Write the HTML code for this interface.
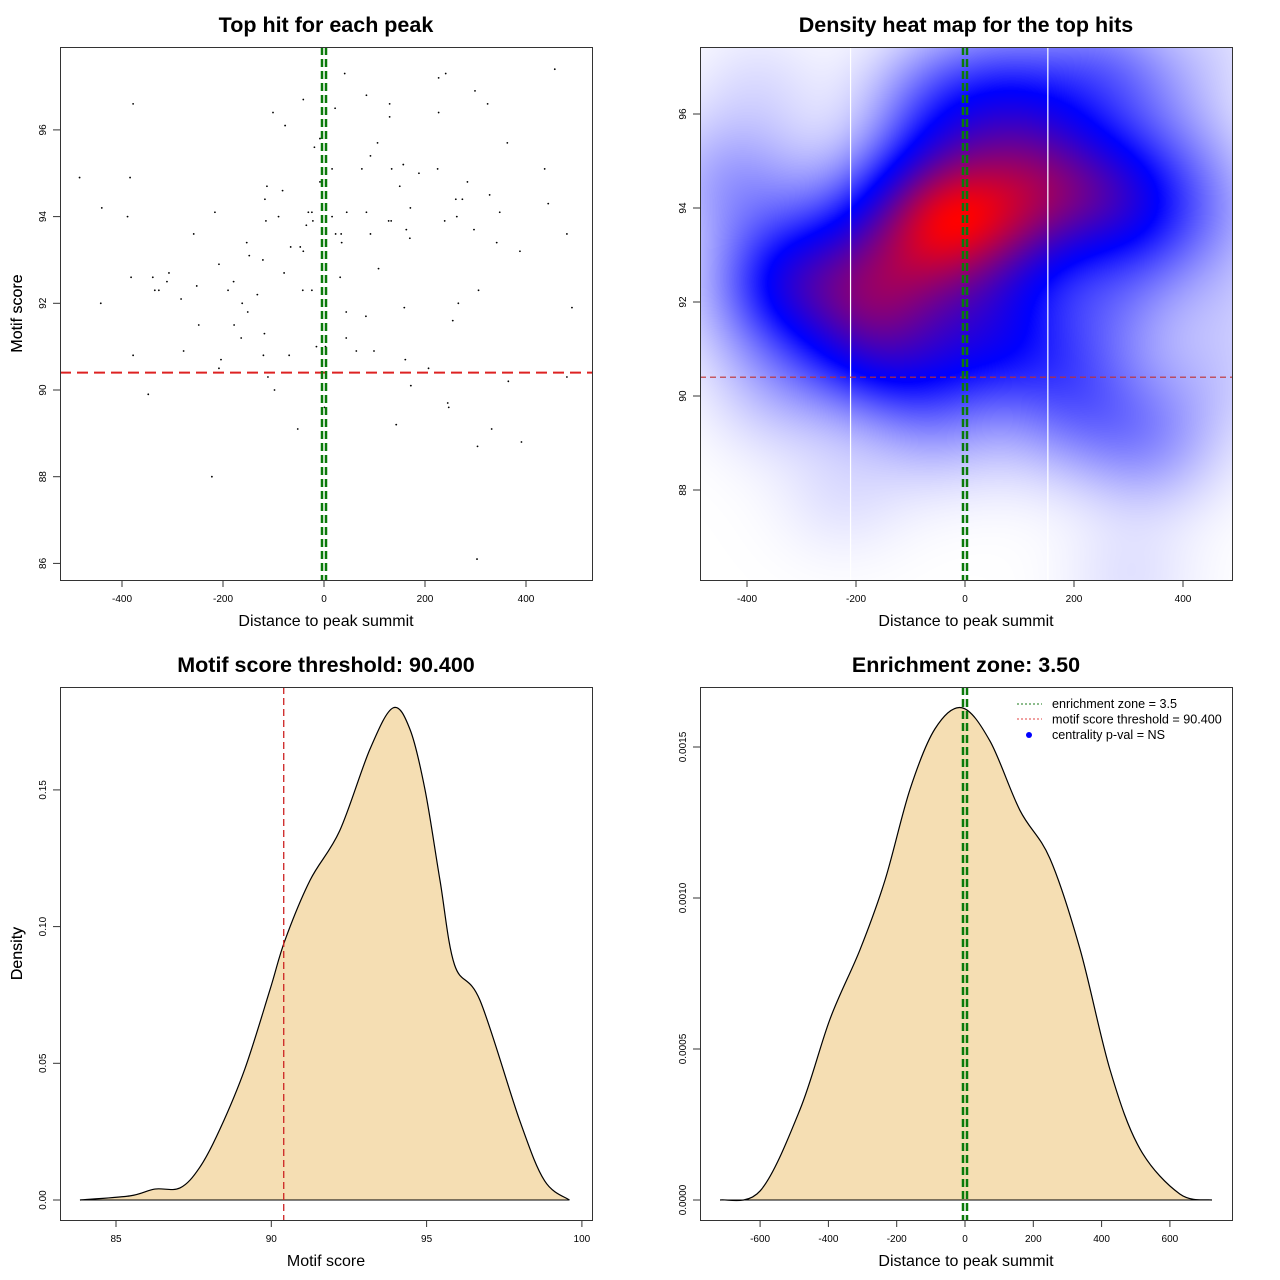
<!DOCTYPE html>
<html><head><meta charset="utf-8">
<style>
html,body{margin:0;padding:0;background:#fff;}
#wrap{position:relative;width:1280px;height:1280px;}
#heat{position:absolute;left:700px;top:47px;}
#svg{position:absolute;left:0;top:0;}
text{font-family:"Liberation Sans",sans-serif;fill:#000;}
</style></head><body>
<div id="wrap">
<canvas id="heat" width="532" height="533"></canvas>
<svg id="svg" width="1280" height="1280" xmlns="http://www.w3.org/2000/svg"></svg>
</div>
<script>
// ---- data ----
const hitDist = [-41,-378,-101,-77,-8,-19,-484,-384,-8,-113,-82,-117,-440,-216,-31,-24,-389,-115,-90,-22,-35,-258,-153,-66,-47,-41,-148,-121,-208,-307,-79,-382,-339,-311,-179,-252,-335,-327,-190,-42,-24,-132,-283,-442,-162,-151,-248,-178,-118,-164,-15,-278,-378,-120,-69,-204,-208,-111,-98,-348,1,-52,-222,
457,41,241,227,299,84,130,324,22,227,130,106,363,92,157,16,75,134,225,437,188,284,150,328,261,274,444,171,45,84,348,16,263,128,133,239,163,297,23,34,92,481,170,35,342,388,108,32,306,159,266,491,44,83,255,44,3,64,99,161,207,365,481,172,245,247,143,332,391,304,303];
const hitScore = [96.7,96.6,96.4,96.1,95.8,95.6,94.9,94.9,94.8,94.7,94.6,94.4,94.2,94.1,94.1,94.1,94.0,93.9,94.0,93.9,93.8,93.6,93.4,93.3,93.3,93.2,93.1,93.0,92.9,92.7,92.7,92.6,92.6,92.5,92.5,92.4,92.3,92.3,92.3,92.3,92.3,92.2,92.1,92.0,92.0,91.8,91.5,91.5,91.3,91.2,91.0,90.9,90.8,90.8,90.8,90.7,90.5,90.3,90.0,89.9,89.6,89.1,88.0,
97.4,97.3,97.3,97.2,96.9,96.8,96.6,96.6,96.5,96.4,96.3,95.7,95.7,95.4,95.2,95.1,95.1,95.1,95.1,95.1,95.0,94.8,94.7,94.5,94.4,94.4,94.3,94.2,94.1,94.1,94.1,94.0,94.0,93.9,93.9,93.9,93.7,93.7,93.6,93.6,93.6,93.6,93.5,93.4,93.4,93.2,92.8,92.6,92.3,91.9,92.0,91.9,91.8,91.7,91.6,91.2,91.0,90.9,90.9,90.7,90.5,90.2,90.3,90.1,89.7,89.6,89.2,89.1,88.8,88.7,86.1];
const scoreGrid = [83.84,85.45,86.25,87.06,87.7,88.35,89.15,89.96,90.44,91.25,92.2,93.18,93.92,94.47,94.95,95.43,95.9,96.72,98.0,98.8,99.6];
const scoreDens = [0,0.0015,0.004,0.0044,0.012,0.026,0.048,0.077,0.095,0.117,0.135,0.165,0.180,0.172,0.150,0.117,0.086,0.073,0.029,0.007,0];
const distGrid = [-717,-600,-483,-395,-307,-234,-161,-88,-9,73,161,249,337,425,512,629,723];
const distDens = [0,0.00003,0.0003,0.0006,0.00083,0.00106,0.00136,0.00156,0.00163,0.00152,0.00129,0.00113,0.00083,0.00043,0.00017,0.00002,0];
const threshold = 90.4;
const zone = 3.5;
const xTicks1 = [-400,-200,0,200,400];
const yTicks1 = [86,88,90,92,94,96];
const yTicks2 = [88,90,92,94,96];
const xTicks3 = [85,90,95,100];
const yTicks3 = [0,0.05,0.10,0.15];
const yTickLab3 = ["0.00","0.05","0.10","0.15"];
const xTicks4 = [-600,-400,-200,0,200,400,600];
const yTicks4 = [0,0.0005,0.0010,0.0015];
const yTickLab4 = ["0.0000","0.0005","0.0010","0.0015"];

const NS="http://www.w3.org/2000/svg";
const svg=document.getElementById('svg');
function el(tag,attrs,parent,txt){const e=document.createElementNS(NS,tag);for(const k in attrs)e.setAttribute(k,attrs[k]);if(txt!==undefined)e.textContent=txt;(parent||svg).appendChild(e);return e;}
function lin(d0,d1,r0,r1){return v=>r0+(v-d0)*(r1-r0)/(d1-d0);}

const X1=lin(0,200,324,425), Y1=lin(90,92,390,303.3);
const X2=lin(0,200,965,1074), Y2=lin(90,92,396,302);
const X3=lin(85,90,116,271.3), Y3=lin(0,0.05,1200,1063.3);
const X4=lin(0,200,965,1033.3), Y4=lin(0,0.0005,1200,1049);

function panel(name,x0,y0,x1,y1,title,xlab,ylab){
  const g=el('g',{});
  
  
  const t=el('text',{x:(x0+x1)/2,y:y0-15,'text-anchor':'middle','font-size':21.5,'font-weight':'bold'},g,title);
  
  const xl=el('text',{x:(x0+x1)/2,y:y1+46,'text-anchor':'middle','font-size':16},g,xlab);
  
  const yl=el('text',{x:0,y:0,'text-anchor':'middle','font-size':16,transform:`translate(22,${(y0+y1)/2}) rotate(-90)`},g,ylab);
  
  return g;
}
function box(g,x0,y0,x1,y1){const r=el('rect',{x:x0+.5,y:y0+.5,width:x1-x0,height:y1-y0,fill:'none',stroke:'#333','stroke-width':1},g);}
function xAxis(g,ticks,labs,X,yb){
  ticks.forEach((v,i)=>{const p=X(v);
    el('line',{x1:p,x2:p,y1:yb,y2:yb+7,stroke:'#333'},g);
    const t=el('text',{x:p,y:yb+22,'text-anchor':'middle','font-size':10},g,labs?labs[i]:String(v));
    });
}
function yAxis(g,ticks,labs,Y,xl){
  ticks.forEach((v,i)=>{const p=Y(v);
    el('line',{x1:xl,x2:xl-7,y1:p,y2:p,stroke:'#333'},g);
    const t=el('text',{x:0,y:0,'text-anchor':'middle','font-size':10,transform:`translate(${xl-14},${p}) rotate(-90)`},g,labs?labs[i]:String(v));
    });
}
function greenLines(g,X,y0,y1){
  [-2,2].forEach(o=>{const l=el('line',{x1:X(0)+o,x2:X(0)+o,y1:y0,y2:y1,stroke:'#0a7a0a','stroke-width':2.5,'stroke-dasharray':'8,4'},g);
  });
}
function smoothPath(px,py){
  let d=`M${px[0]},${py[0]}`;
  for(let i=0;i<px.length-1;i++){
    const x0=px[Math.max(i-1,0)],y0=py[Math.max(i-1,0)],x1=px[i],y1=py[i],x2=px[i+1],y2=py[i+1],x3=px[Math.min(i+2,px.length-1)],y3=py[Math.min(i+2,px.length-1)];
    d+=` C${x1+(x2-x0)/6},${y1+(y2-y0)/6} ${x2-(x3-x1)/6},${y2-(y3-y1)/6} ${x2},${y2}`;
  }
  return d;
}

// ---- panel 1 ----
{const g=panel('scatter-panel',60,47,592,580,'Top hit for each peak','Distance to peak summit','Motif score');
 const clip=el('clipPath',{id:'c1'},g);el('rect',{x:60,y:47,width:532,height:533},clip);
 const pg=el('g',{'clip-path':'url(#c1)'},g);
 hitDist.forEach((d,i)=>{const c=el('circle',{cx:X1(d),cy:Y1(hitScore[i]),r:0.9,fill:'#000'},pg);
   });
 const h=el('line',{x1:60,x2:592,y1:Y1(threshold),y2:Y1(threshold),stroke:'#dd2222','stroke-width':2,'stroke-dasharray':'11,6'},pg);
 
 greenLines(pg,X1,47,580);
 box(g,60,47,592,580);xAxis(g,xTicks1,null,X1,580);yAxis(g,yTicks1,null,Y1,60);}

// ---- panel 2 heatmap ----
{const cv=document.getElementById('heat');const ctx=cv.getContext('2d');
 const W=532,H=533,img=ctx.createImageData(W,H);
 const bx=85,by=0.95;const dens=new Float32Array(W*H);let mx=0;
 for(let j=0;j<H;j++){const sv=90+(396-(47+j))/47;
  for(let i=0;i<W;i++){const dv=(700+i-965)/0.545;let s=0;
   for(let k=0;k<hitDist.length;k++){const a=(dv-hitDist[k])/bx,b=(sv-hitScore[k])/by;s+=Math.exp(-0.5*(a*a+b*b));}
   dens[j*W+i]=s;if(s>mx)mx=s;}}
 const brk=0.47;
 for(let p=0;p<W*H;p++){let t=dens[p]/mx;let r,gg,b;
  if(t<brk){const u=t/brk;r=255*(1-u);gg=255*(1-u);b=255;}
  else{const u=Math.pow((t-brk)/(1-brk),1.2);r=255*u;gg=0;b=255*(1-u);}
  img.data[p*4]=r;img.data[p*4+1]=gg;img.data[p*4+2]=b;img.data[p*4+3]=255;}
 ctx.putImageData(img,0,0);
 const g=panel('heatmap-panel',700,47,1232,580,'Density heat map for the top hits','Distance to peak summit','Motif score');
 [-210,152].forEach(v=>{const l=el('line',{x1:X2(v),x2:X2(v),y1:47,y2:580,stroke:'#fff','stroke-width':1.2},g);});
 const h=el('line',{x1:700,x2:1232,y1:Y2(threshold),y2:Y2(threshold),stroke:'#c03030','stroke-width':1.2,'stroke-dasharray':'6,4'},g);
 
 greenLines(g,X2,47,580);
 box(g,700,47,1232,580);xAxis(g,xTicks1,null,X2,580);yAxis(g,yTicks2,null,Y2,700);}

// ---- panel 3 ----
{const g=panel('score-density-panel',60,687,592,1220,'Motif score threshold: 90.400','Motif score','Density');
 const px=scoreGrid.map(X3),py=scoreDens.map(Y3);const d=smoothPath(px,py);
 const a=el('path',{d:d+` L${px[px.length-1]},${Y3(0)} L${px[0]},${Y3(0)} Z`,fill:'#f5deb3',stroke:'none'},g);
 
 const l=el('path',{d:d,fill:'none',stroke:'#000','stroke-width':1.2},g);
 el('line',{x1:px[0],x2:px[px.length-1],y1:Y3(0),y2:Y3(0),stroke:'#000','stroke-width':1},g);
 const t=el('line',{x1:X3(threshold),x2:X3(threshold),y1:687,y2:1220,stroke:'#cc2222','stroke-width':1.3,'stroke-dasharray':'7,4'},g);
 
 box(g,60,687,592,1220);xAxis(g,xTicks3,null,X3,1220);yAxis(g,yTicks3,yTickLab3,Y3,60);}

// ---- panel 4 ----
{const g=panel('distance-density-panel',700,687,1232,1220,'Enrichment zone: 3.50','Distance to peak summit','Density');
 const px=distGrid.map(X4),py=distDens.map(Y4);const d=smoothPath(px,py);
 const a=el('path',{d:d+` L${px[px.length-1]},${Y4(0)} L${px[0]},${Y4(0)} Z`,fill:'#f5deb3',stroke:'none'},g);
 
 const l=el('path',{d:d,fill:'none',stroke:'#000','stroke-width':1.2},g);
 el('line',{x1:px[0],x2:px[px.length-1],y1:Y4(0),y2:Y4(0),stroke:'#000','stroke-width':1},g);
 greenLines(g,X4,687,1220);
 box(g,700,687,1232,1220);xAxis(g,xTicks4,null,X4,1220);yAxis(g,yTicks4,yTickLab4,Y4,700);
 const lg=el('g',{},g);
 const e1=el('line',{x1:1017,x2:1042,y1:704,y2:704,stroke:'#1a7a1a','stroke-width':1,'stroke-dasharray':'2,2'},lg);
 
 const e2=el('line',{x1:1017,x2:1042,y1:719,y2:719,stroke:'#e04040','stroke-width':1,'stroke-dasharray':'2,2'},lg);
 
 const e3=el('circle',{cx:1029,cy:735,r:3,fill:'#0000ff'},lg);
 
 const labs=['enrichment zone = 3.5','motif score threshold = 90.400','centrality p-val = NS'];
 labs.forEach((s,i)=>{const t=el('text',{x:1052,y:708+i*15.5,'font-size':12.6},lg,s);});}
</script>
</body></html>
